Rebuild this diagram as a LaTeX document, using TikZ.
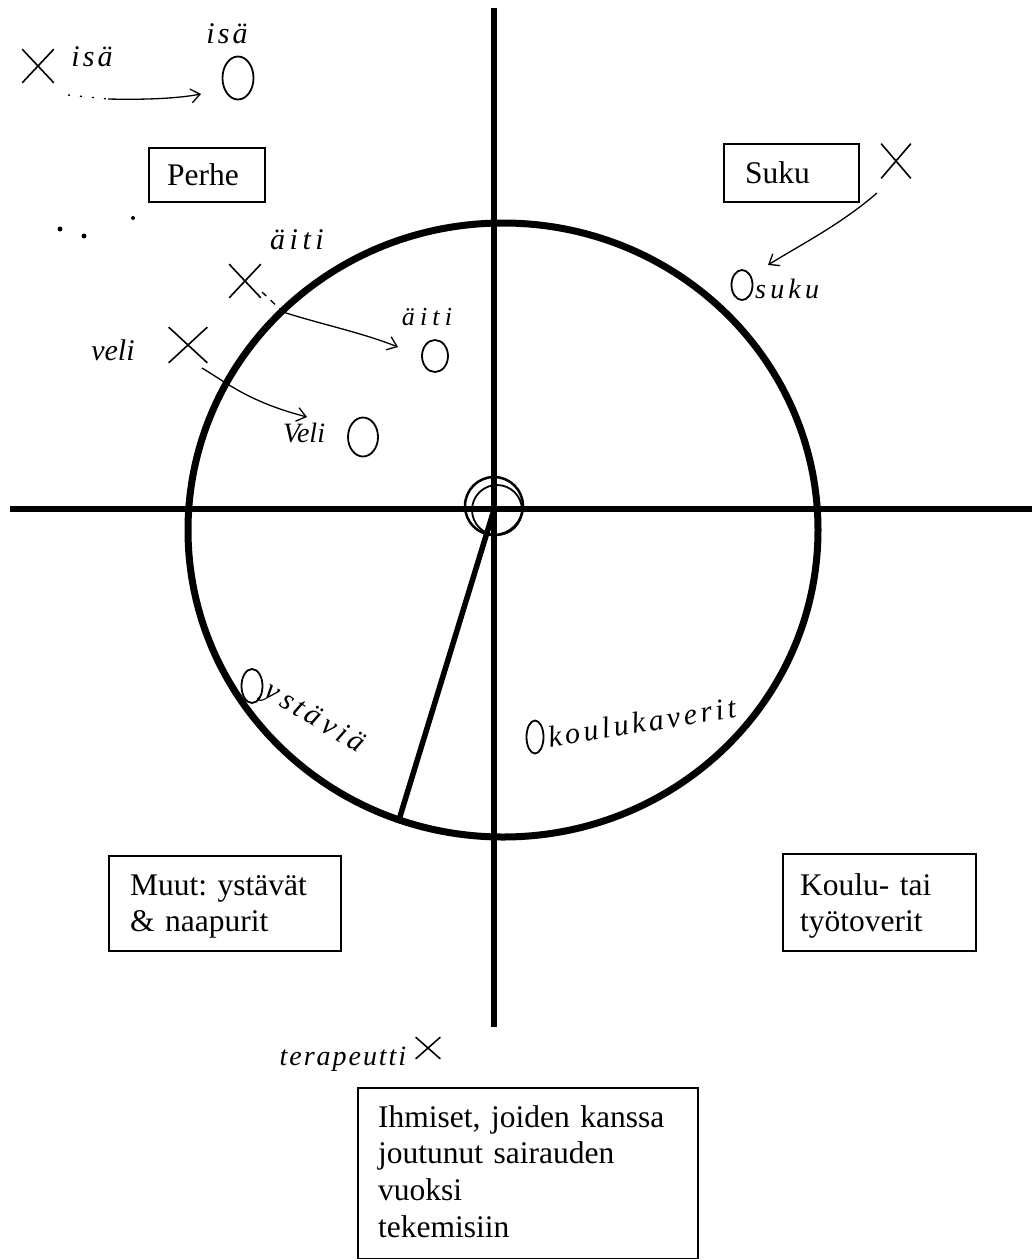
\documentclass[tikz,border=0pt]{standalone}
\usepackage{fontspec}
\setmainfont{Liberation Serif}
\usetikzlibrary{arrows.meta,shapes.misc,shapes.geometric}
\begin{document}
\frenchspacing
\begin{tikzpicture}[x=1pt,y=-1pt,
  axis/.style={line width=5.5pt},
  ring/.style={line width=7pt},
  labelbox/.style={draw,line width=1.8pt,rectangle,inner sep=0pt,anchor=north west},
  boxtext/.style={anchor=base west,inner sep=0pt,text width=#1,align=left,font=\fontsize{31.5}{36.7}\selectfont},
  hand/.style={font=\fontsize{30}{32}\selectfont\itshape,inner sep=0pt},
  xmark/.style={cross out,draw,line width=1.6pt,inner sep=0pt},
  omark/.style={ellipse,draw,line width=1.8pt,inner sep=0pt},
  harrow/.style={line width=1.3pt,-{Straight Barb[length=9pt,width=14pt]}},
  hline/.style={line width=1.3pt},
]
\fill[white] (0,0) rectangle (1032,1259);
\useasboundingbox (0,0) rectangle (1032,1259);

% axes and ring
\draw[ring] (503,530) ellipse [x radius=315, y radius=307];
\draw[axis] (494,8) -- (494,1027);
\draw[axis] (10,509) -- (1032,509);
\coordinate (ctr) at (493,513);
\coordinate (rim) at (398,823);
\draw[line width=5.5pt] (ctr) -- (rim);
\draw[line width=2.5pt] (494,506) circle [radius=29];
\draw[line width=1.8pt] (497,510) circle [radius=25];

% printed boxes
\node[labelbox,minimum width=116pt,minimum height=54pt] (perhe) at (148,147) {};
\node[boxtext=100pt] (perhet) at (167,185) {Perhe};
\node[labelbox,minimum width=135pt,minimum height=58pt] (suku) at (723,143) {};
\node[boxtext=100pt] (sukut) at (745,183) {Suku};
\node[labelbox,minimum width=232pt,minimum height=95pt] (muut) at (108,855) {};
\node[boxtext=220pt] (muutt) at (130,895) {Muut: ystävät\\\& naapurit};
\node[labelbox,minimum width=193pt,minimum height=97pt] (koulu) at (782,853) {};
\node[boxtext=180pt] (koulut) at (800,895) {Koulu- tai\\työtoverit};
\node[labelbox,minimum width=340pt,minimum height=171pt] (ihm) at (357,1087) {};
\node[boxtext=320pt] (ihmt) at (378,1127) {Ihmiset, joiden kanssa\\joutunut sairauden\\vuoksi\\tekemisiin};

% handwritten marks
\node[xmark,minimum width=30pt,minimum height=32pt] (xisa) at (38,66) {};
\node[hand,font=\fontsize{30}{32}\selectfont\itshape\addfontfeatures{LetterSpace=10}] (lisa) at (92,57) {isä};
\node[omark,minimum width=31pt,minimum height=43pt] (oisa) at (238,78) {};
\node[hand,font=\fontsize{30}{32}\selectfont\itshape\addfontfeatures{LetterSpace=10}] (lisa2) at (227,34) {isä};
\coordinate (isaA) at (68,95);
\coordinate (isaB) at (108,99);
\coordinate (isaC) at (201,94);
\draw[hline,dash pattern=on 2pt off 10pt] (isaA) -- (isaB);
\draw[harrow] (isaB) .. controls (150,100) and (180,98) .. (isaC);

\node[hand,font=\fontsize{30}{32}\selectfont\itshape\addfontfeatures{LetterSpace=15}] (laiti) at (297,240) {äiti};
\node[xmark,minimum width=30pt,minimum height=32pt] (xaiti) at (245,281) {};
\node[hand,font=\fontsize{26}{28}\selectfont\itshape\addfontfeatures{LetterSpace=20}] (laiti2) at (427,317) {äiti};
\node[omark,minimum width=26pt,minimum height=32pt] (oaiti) at (435,356) {};
\coordinate (aitiA) at (262,292);
\coordinate (aitiB) at (283,312);
\coordinate (aitiC) at (398,347);
\draw[hline,dash pattern=on 6pt off 6pt] (aitiA) -- (aitiB);
\draw[harrow] (aitiB) .. controls (320,324) and (360,332) .. (aitiC);

\node[hand] (lveli) at (113,350) {veli};
\node[xmark,minimum width=37pt,minimum height=34pt] (xveli) at (188,345) {};
\node[hand,font=\fontsize{28}{30}\selectfont\itshape] (lveli2) at (304,433) {Veli};
\node[omark,minimum width=30pt,minimum height=39pt] (oveli) at (363,437) {};
\coordinate (veliA) at (202,368);
\coordinate (veliC) at (307,417);
\draw[harrow] (veliA) .. controls (230,385) and (250,402) .. (veliC);

\node[xmark,minimum width=28pt,minimum height=33pt] (xsuku) at (896,161) {};
\node[omark,minimum width=21pt,minimum height=30pt] (osuku) at (742,285) {};
\node[hand,font=\fontsize{28}{30}\selectfont\itshape\addfontfeatures{LetterSpace=15},anchor=west] (lsuku) at (755,289) {suku};
\coordinate (sukuA) at (877,193);
\coordinate (sukuC) at (768,265);
\draw[harrow] (sukuA) .. controls (840,225) and (800,245) .. (sukuC);

\node[omark,minimum width=21pt,minimum height=34pt] (oyst) at (252,686) {};
\node[hand,font=\fontsize{30}{32}\selectfont\itshape\addfontfeatures{LetterSpace=15},rotate=-31,anchor=west] (lyst) at (266,690) {ystäviä};
\node[omark,minimum width=17pt,minimum height=33pt] (okoul) at (535,737) {};
\node[hand,font=\fontsize{30}{32}\selectfont\itshape\addfontfeatures{LetterSpace=12},rotate=9,anchor=west] (lkoul) at (548,737) {koulukaverit};

\node[hand,font=\fontsize{28}{30}\selectfont\itshape\addfontfeatures{LetterSpace=7}] (ltera) at (343,1059) {terapeutti};
\node[xmark,minimum width=23pt,minimum height=20pt] (xtera) at (428,1048) {};

% scan specks
\fill (60,229) circle [radius=2.5];
\fill (84,236) circle [radius=2.5];
\fill (133,218) circle [radius=2];
\end{tikzpicture}
\end{document}
